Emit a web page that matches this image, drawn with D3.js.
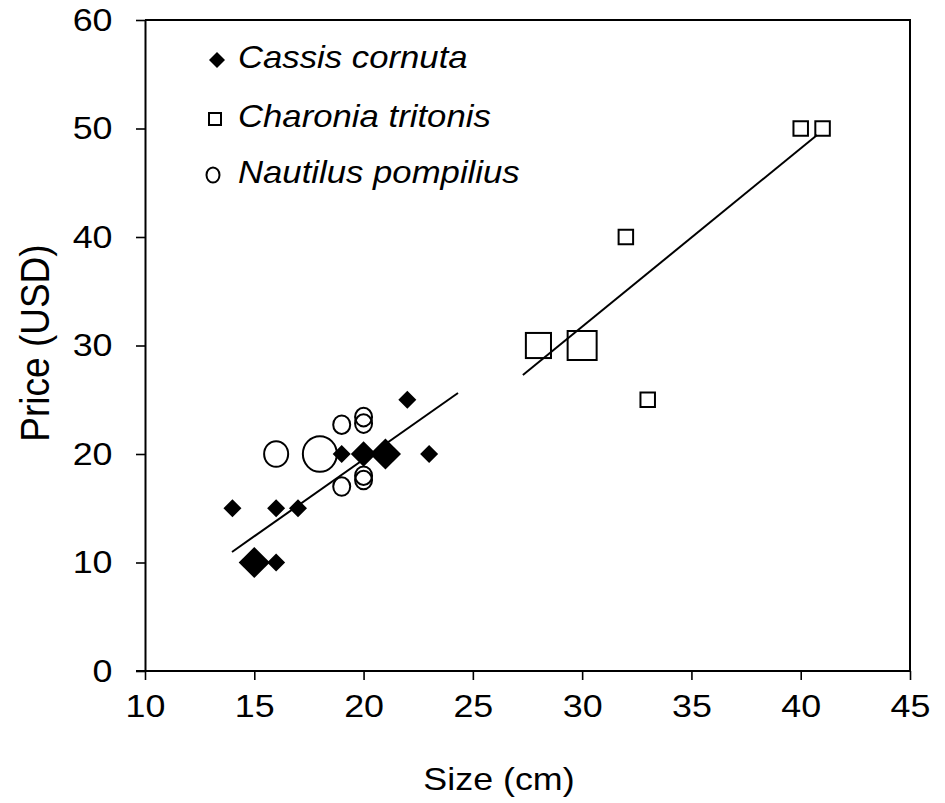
<!DOCTYPE html>
<html>
<head>
<meta charset="utf-8">
<script src="https://cdn.jsdelivr.net/npm/d3@7/dist/d3.min.js"></script>
<style>
  html, body { margin: 0; padding: 0; background: #fff; }
  svg { display: block; }
  text { font-family: "Liberation Sans", Arial, sans-serif; fill: #000; }
</style>
</head>
<body>
<svg id="chart" width="945" height="803"></svg>
<script>
// ---------- data ----------
const xTicks = [10, 15, 20, 25, 30, 35, 40, 45];
const yTicks = [0, 10, 20, 30, 40, 50, 60];

// Cassis cornuta (filled diamonds); n = number of overlapping observations
const cassisSize  = [14, 15, 16, 16, 17, 19, 20, 21, 22, 23];
const cassisPrice = [15, 10, 10, 15, 15, 20, 20, 20, 25, 20];
const cassisN     = [1, 3, 1, 1, 1, 1, 2, 3, 1, 1];

// Charonia tritonis (open squares)
const charoniaSize  = [28, 30, 32, 33, 40, 41];
const charoniaPrice = [30, 30, 40, 25, 50, 50];
const charoniaN     = [3, 4, 1, 1, 1, 1];

// Nautilus pompilius (open circles)
const nautilusSize  = [16, 18, 19, 20, 20, 19, 20, 20];
const nautilusPrice = [20, 20, 22.7, 23.4, 22.8, 17, 18, 17.6];
const nautilusN     = [2, 4, 1, 1, 1, 1, 1, 1];

// fitted regression lines (end points, data units)
const cassisFitX   = [13.98, 24.32];
const cassisFitY   = [10.97, 25.62];
const charoniaFitX = [27.29, 40.75];
const charoniaFitY = [27.28, 49.4];

const legendLabels = ["Cassis cornuta", "Charonia tritonis", "Nautilus pompilius"];

// ---------- layout ----------
const svg = d3.select("#chart");
const mL = 145, mR = 910, mT = 20, mB = 671;
const x = d3.scaleLinear().domain([10, 45]).range([mL, mR]);
const y = d3.scaleLinear().domain([0, 60]).range([mB, mT]);
const STRETCH = "scale(1.12,1)";

// frame (top & right borders)
svg.append("path")
  .attr("d", `M${mL},${mT}H${mR}V${mB}`)
  .attr("fill", "none").attr("stroke", "#000").attr("stroke-width", 2);

// axes
const gx = svg.append("g").attr("transform", `translate(0,${mB})`)
  .call(d3.axisBottom(x).tickValues(xTicks).tickSize(9).tickSizeOuter(0).tickPadding(14));
const gy = svg.append("g").attr("transform", `translate(${mL},0)`)
  .call(d3.axisLeft(y).tickValues(yTicks).tickSize(9).tickSizeOuter(0).tickPadding(20));

[gx, gy].forEach(g => {
  g.select(".domain").attr("stroke", "#000").attr("stroke-width", 2);
  g.selectAll(".tick line").attr("stroke", "#000").attr("stroke-width", 1.6);
  g.selectAll(".tick text")
    .style("font-family", '"Liberation Sans", Arial, sans-serif')
    .style("font-size", "32px").attr("fill", "#000");
});
gx.selectAll(".tick text").attr("dy", "0.71em").attr("transform", STRETCH);
gy.selectAll(".tick text").attr("transform", STRETCH);
// extend x-axis slightly left of y axis (cross at origin)
gx.select(".domain").attr("d", `M${mL - 9},0H${mR}`);

// axis titles
svg.append("text")
  .attr("transform", `translate(499,790) ${STRETCH}`)
  .attr("text-anchor", "middle").style("font-size", "32px").text("Size (cm)");
svg.append("text")
  .attr("transform", `translate(49,343) rotate(-90) scale(1,1.12)`)
  .attr("text-anchor", "middle").style("font-size", "37px").text("Price (USD)");

// ---------- marks ----------
const diag = n => 18 * Math.sqrt(n);           // diamond diagonal
const sq   = n => 14.5 * Math.sqrt(n);         // square side
const circ = n => 17 * Math.sqrt(n);           // circle diameter

function diamondPath(d) { const h = d / 2; return `M0,${-h}L${h},0L0,${h}L${-h},0Z`; }

const marks = svg.append("g");

// regression lines
const line = d3.line().x(d => x(d[0])).y(d => y(d[1]));
marks.append("path").datum(d3.zip(cassisFitX, cassisFitY))
  .attr("d", line).attr("stroke", "#000").attr("stroke-width", 2).attr("fill", "none");
marks.append("path").datum(d3.zip(charoniaFitX, charoniaFitY))
  .attr("d", line).attr("stroke", "#000").attr("stroke-width", 2).attr("fill", "none");

// Nautilus circles
marks.selectAll(".naut").data(d3.zip(nautilusSize, nautilusPrice, nautilusN)).join("ellipse")
  .attr("cx", d => x(d[0])).attr("cy", d => y(d[1]))
  .attr("rx", d => circ(d[2]) / 2).attr("ry", d => circ(d[2]) / 2 + 0.8)
  .attr("fill", "none").attr("stroke", "#000").attr("stroke-width", 2);

// Charonia squares
marks.selectAll(".char").data(d3.zip(charoniaSize, charoniaPrice, charoniaN)).join("rect")
  .attr("x", d => x(d[0]) - sq(d[2]) / 2).attr("y", d => y(d[1]) - sq(d[2]) / 2)
  .attr("width", d => sq(d[2])).attr("height", d => sq(d[2]))
  .attr("fill", "none").attr("stroke", "#000").attr("stroke-width", 2);

// Cassis diamonds
marks.selectAll(".cass").data(d3.zip(cassisSize, cassisPrice, cassisN)).join("path")
  .attr("transform", d => `translate(${x(d[0])},${y(d[1])})`)
  .attr("d", d => diamondPath(diag(d[2]))).attr("fill", "#000");

// ---------- legend ----------
const lg = svg.append("g");
const legY = [60, 119, 175];
lg.append("path").attr("transform", `translate(217,${legY[0]})`).attr("d", diamondPath(16)).attr("fill", "#000");
lg.append("rect").attr("x", 215 - 6).attr("y", legY[1] - 6).attr("width", 12).attr("height", 12)
  .attr("fill", "none").attr("stroke", "#000").attr("stroke-width", 2);
lg.append("ellipse").attr("cx", 213).attr("cy", legY[2]).attr("rx", 6.5).attr("ry", 7.5)
  .attr("fill", "none").attr("stroke", "#000").attr("stroke-width", 2);
legendLabels.forEach((t, i) => {
  lg.append("text")
    .attr("transform", `translate(238,${legY[i] + 8}) ${STRETCH}`)
    .style("font-size", "31px").style("font-style", "italic").text(t);
});
</script>
</body>
</html>
